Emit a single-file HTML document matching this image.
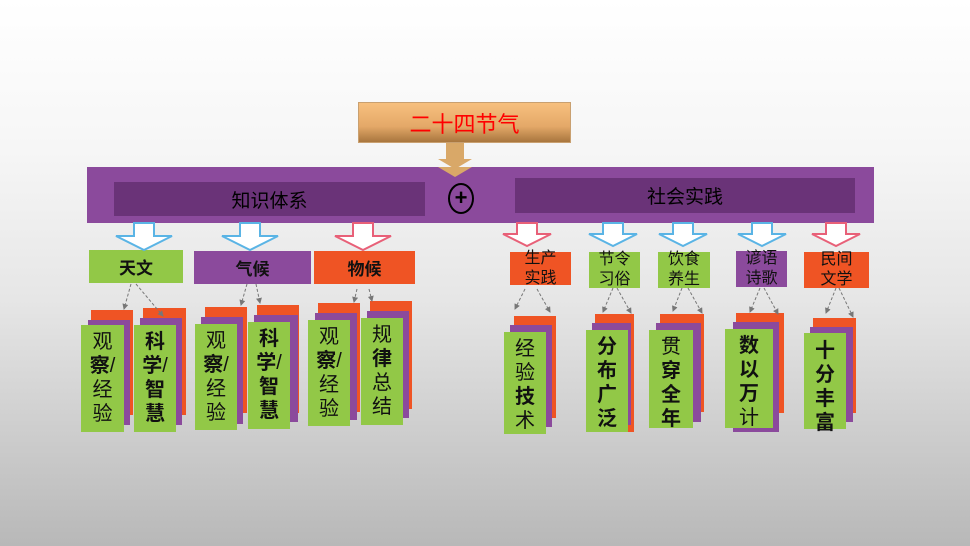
<!DOCTYPE html>
<html><head><meta charset="utf-8"><style>
body{margin:0}
#c{position:relative;width:970px;height:546px;overflow:hidden;background:linear-gradient(#fff 0px,#f6f6f6 150px,#e6e6e6 300px,#b8b8b8 546px);font-family:"Liberation Sans","Noto Sans CJK SC",sans-serif}
.b{position:absolute}
.g{background:#92c847}.p{background:#8b4a9c}.o{background:#ef5424}
.t{position:absolute;text-align:center;color:#111;font-size:19px;line-height:24px;display:flex;flex-direction:column;align-items:center;justify-content:center}
.v{position:absolute;text-align:center;color:#111;font-size:20px;line-height:24px;padding-top:5px;box-sizing:border-box;background:#92c847}
.v b{font-weight:bold}
.lb{position:absolute;display:flex;align-items:center;justify-content:center;font-size:17px;color:#111}
</style></head><body><div id="c">
<div class="b" style="left:358px;top:102px;width:211px;height:39px;background:linear-gradient(#f7c07e,#e4a868 60%,#a8763e);border:1px solid #c9a070;display:flex;align-items:center;justify-content:center;color:#f00;font-size:22px">二十四节气</div>
<svg class="b" style="left:0;top:0" width="970" height="546">
<defs><marker id="m" markerWidth="6" markerHeight="6" refX="5" refY="3" orient="auto"><path d="M0,0L6,3L0,6z" fill="#777"/></marker></defs>
<path d="M446,143h18v16h8l-17,10-17-10h8z" fill="#d9a868"/>
</svg>
<div class="b" style="left:87px;top:167px;width:787px;height:56px;background:#8b4a9c"></div>
<svg class="b" style="left:0;top:0" width="970" height="546"><path d="M438,167h34l-17,10z" fill="#d9a868"/></svg>
<div class="lb" style="left:114px;top:182px;width:311px;height:34px;background:#6a3378;font-size:19px;color:#000">知识体系</div>
<div class="lb" style="left:515px;top:178px;width:340px;height:35px;background:#6a3378;font-size:19px;color:#000">社会实践</div>
<div class="b" style="left:448px;top:183px;width:22px;height:27px;border:2px solid #000;border-radius:50%;font-size:22px;font-weight:bold;line-height:26px;text-align:center">+</div>

<div class="lb g" style="left:89px;top:250px;width:94px;height:33px;font-weight:bold">天文</div>
<div class="lb p" style="left:194px;top:251px;width:117px;height:33px;font-weight:bold">气候</div>
<div class="lb o" style="left:314px;top:251px;width:101px;height:33px;font-weight:bold">物候</div>
<div class="t o" style="left:510px;top:252px;width:61px;height:33px;font-size:16px;line-height:20px">生产<br>实践</div>
<div class="t g" style="left:589px;top:252px;width:51px;height:36px;font-size:16px;line-height:20px">节令<br>习俗</div>
<div class="t g" style="left:658px;top:252px;width:52px;height:36px;font-size:16px;line-height:20px">饮食<br>养生</div>
<div class="t p" style="left:736px;top:251px;width:51px;height:36px;font-size:16px;line-height:20px">谚语<br>诗歌</div>
<div class="t o" style="left:804px;top:252px;width:65px;height:36px;font-size:16px;line-height:20px">民间<br>文学</div>

<div class="b o" style="left:91px;top:310px;width:42px;height:105px"></div><div class="b p" style="left:88px;top:320px;width:42px;height:105px"></div><div class="v" style="left:81px;top:325px;width:43px;height:107px">观<br><b>察</b>/<br>经<br>验</div>
<div class="b o" style="left:143px;top:308px;width:43px;height:107px"></div><div class="b p" style="left:140px;top:318px;width:42px;height:107px"></div><div class="v" style="left:134px;top:325px;width:42px;height:107px"><b>科<br>学</b>/<br><b>智<br>慧</b></div>
<div class="b o" style="left:205px;top:307px;width:42px;height:106px"></div><div class="b p" style="left:201px;top:317px;width:42px;height:107px"></div><div class="v" style="left:195px;top:324px;width:42px;height:106px">观<br><b>察</b>/<br>经<br>验</div>
<div class="b o" style="left:257px;top:305px;width:42px;height:108px"></div><div class="b p" style="left:254px;top:315px;width:44px;height:107px"></div><div class="v" style="left:248px;top:322px;width:42px;height:107px"><b>科<br>学</b>/<br><b>智<br>慧</b></div>
<div class="b o" style="left:318px;top:303px;width:42px;height:109px"></div><div class="b p" style="left:315px;top:313px;width:42px;height:107px"></div><div class="v" style="left:308px;top:320px;width:42px;height:106px">观<br><b>察</b>/<br>经<br>验</div>
<div class="b o" style="left:370px;top:301px;width:42px;height:108px"></div><div class="b p" style="left:367px;top:311px;width:42px;height:107px"></div><div class="v" style="left:361px;top:318px;width:42px;height:107px">规<br><b>律</b><br>总<br>结</div>

<div class="b o" style="left:514px;top:316px;width:42px;height:102px"></div><div class="b p" style="left:510px;top:325px;width:42px;height:102px"></div><div class="v" style="left:504px;top:332px;width:42px;height:102px">经<br>验<br><b>技</b><br>术</div>
<div class="b o" style="left:595px;top:314px;width:39px;height:118px"></div><div class="b p" style="left:592px;top:323px;width:39px;height:102px"></div><div class="v" style="left:586px;top:330px;width:42px;height:102px"><b>分<br>布<br>广<br>泛</b></div>
<div class="b o" style="left:660px;top:314px;width:44px;height:98px"></div><div class="b p" style="left:656px;top:323px;width:45px;height:99px"></div><div class="v" style="left:649px;top:330px;width:44px;height:98px">贯<br><b>穿<br>全<br>年</b></div>
<div class="b o" style="left:736px;top:313px;width:48px;height:100px"></div><div class="b p" style="left:733px;top:322px;width:46px;height:110px"></div><div class="v" style="left:725px;top:329px;width:48px;height:99px"><b>数<br>以<br>万</b><br>计</div>
<div class="b o" style="left:813px;top:318px;width:43px;height:95px"></div><div class="b p" style="left:810px;top:327px;width:43px;height:95px"></div><div class="v" style="left:804px;top:333px;width:42px;height:96px;padding-top:6px"><b>十<br>分<br>丰<br>富</b></div>

<svg class="b" style="left:0;top:0" width="970" height="546">
<g fill="#fff" stroke-width="2">
<path d="M134,223h20v13h18l-28,14-28-14h18z" stroke="#5ab4e5"/>
<path d="M240,223h20v13h18l-28,14-28-14h18z" stroke="#5ab4e5"/>
<path d="M353,223h20v13h18l-28,14-28-14h18z" stroke="#e86078"/>
<path d="M517,223h20v11h14l-24,12-24-12h14z" stroke="#e86078"/>
<path d="M603,223h20v11h14l-24,12-24-12h14z" stroke="#5ab4e5"/>
<path d="M673,223h20v11h14l-24,12-24-12h14z" stroke="#5ab4e5"/>
<path d="M752,223h20v11h14l-24,12-24-12h14z" stroke="#5ab4e5"/>
<path d="M826,223h20v11h14l-24,12-24-12h14z" stroke="#e86078"/>
</g>
<g stroke="#777" stroke-dasharray="3,2" stroke-width="1" marker-end="url(#m)" fill="none">
<path d="M131,284L124,309"/><path d="M136,284L163,316"/>
<path d="M247,284L241,305"/><path d="M256,284L260,303"/>
<path d="M357,289L354,302"/><path d="M369,289L372,301"/>
<path d="M525,289L515,309"/><path d="M537,289L550,312"/>
<path d="M613,288L603,312"/><path d="M617,288L631,313"/>
<path d="M682,288L673,311"/><path d="M688,288L702,313"/>
<path d="M760,288L750,312"/><path d="M764,288L778,314"/>
<path d="M836,288L826,313"/><path d="M839,288L853,317"/>
</g></svg>
</div></body></html>
